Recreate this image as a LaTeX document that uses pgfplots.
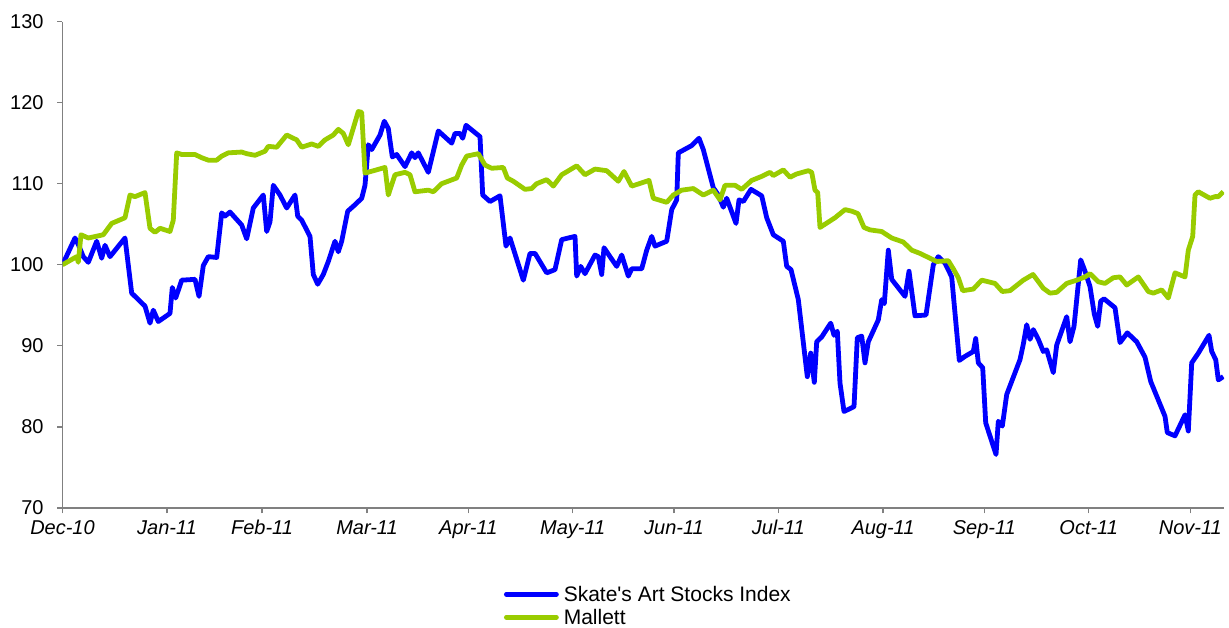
\documentclass[border=0pt]{standalone}
\usepackage{pgfplots}
\pgfplotsset{compat=1.18}
\usepackage{fontspec}
\setmainfont{Liberation Sans}
\definecolor{skblue}{RGB}{0,0,255}
\definecolor{mgreen}{RGB}{153,204,0}
\definecolor{axgray}{RGB}{128,128,128}
\begin{document}
\begin{tikzpicture}
\useasboundingbox (-31.25pt,-59.5pt) rectangle (583.25pt,254pt);
\begin{axis}[
  scale only axis, width=580.75pt, height=243.25pt,
  xmin=62.5, xmax=1224, ymin=70, ymax=130,
  axis x line*=bottom, axis y line*=left,
  axis line style={axgray, line width=0.6pt},
  tick align=outside, major tick length=2.65pt,
  tick style={axgray, line width=0.6pt},
  ytick={70,80,...,130},
  xtick={62.5,167,262,367,468.3,572.7,674,778.3,883,984.3,1088.7,1190.3},
  xticklabels={Dec-10,Jan-11,Feb-11,Mar-11,Apr-11,May-11,Jun-11,Jul-11,Aug-11,Sep-11,Oct-11,Nov-11},
  /pgf/number format/assume math mode=true,
  yticklabel style={font=\fontsize{10}{12}\selectfont, xshift=-3.3pt},
  xticklabel style={font=\fontsize{10}{12}\selectfont\itshape},
  legend style={at={(0.3801,-0.1618)}, anchor=north west, draw=none, fill=none,
    inner sep=0pt, outer sep=0pt, row sep=2pt, column sep=2.5pt,
    font=\fontsize{10.5}{12.6}\selectfont,
    nodes={inner sep=0pt, text height=7.5pt, text depth=2pt, anchor=base west}},
  legend cell align=left,
  legend image code/.code={\draw[#1, line cap=round] (1pt,3.75pt) -- (26pt,3.75pt);},
]
\addplot[skblue, line width=2.4pt, line join=round] coordinates {
(62.5,100.0)(75,103.3)(78.3,102.5)(83.3,101.0)(88.3,100.3)(96.7,102.9)(101.7,100.8)(105,102.4)(110,101.0)(125,103.3)
(131.7,96.5)(145,94.9)(150,92.8)(153.3,94.4)(158.3,93.0)(170,94.0)(172.3,97.2)(175.7,95.9)(181.7,98.1)(195,98.2)
(199,96.1)(203.3,99.9)(208.3,101.0)(216.7,100.9)(221.7,106.4)(225,106.0)(230,106.5)(241.7,104.9)(246.7,103.2)(253.3,107.0)
(263.3,108.6)(266.7,104.1)(270,105.3)(273.3,109.8)(280,108.6)(286.7,107.0)(295,108.6)(297.7,106.0)(301.7,105.5)(310,103.5)
(313.3,98.8)(317.7,97.6)(323.3,98.8)(328.3,100.4)(335,102.9)(338.3,101.6)(341.7,102.9)(347.7,106.6)(355,107.4)(361.7,108.2)
(365,109.8)(368.3,114.8)(371.7,114.2)(380,116.0)(384.3,117.7)(388.3,116.8)(392.3,113.3)(396.7,113.6)(405,112.1)(411.7,113.8)
(415,113.2)(418.3,113.8)(428.3,111.4)(438.3,116.5)(451.7,115.0)(455,116.2)(460,116.2)(462.7,115.6)(466,117.2)(480,115.8)
(482.7,108.6)(490,107.8)(500,108.5)(506,102.3)(510,103.3)(523.3,98.1)(530,101.4)(535,101.4)(546.7,99.0)(555,99.4)
(561.7,103.1)(575,103.5)(576.7,98.6)(580.7,99.8)(585,98.9)(595,101.2)(598.3,101.0)(601.7,98.8)(604,102.1)(610,101.0)
(616.7,99.8)(621.7,101.2)(628.3,98.6)(631.7,99.5)(641.7,99.5)(646.7,101.8)(651.7,103.5)(655,102.3)(666.7,102.9)(671.7,106.8)
(676.7,108.0)(678.3,113.8)(691.7,114.7)(699,115.6)(703.3,114.2)(713.3,109.5)(718.3,108.6)(723.3,107.1)(726.7,108.2)(736,105.1)
(739,108.0)(743.3,107.8)(751,109.3)(761.7,108.5)(766.7,105.8)(773.3,103.7)(783.3,102.9)(786.7,99.8)(791,99.4)(798.3,95.7)
(807.3,86.2)(810.7,89.1)(814.3,85.5)(816.7,90.5)(821.7,91.1)(830.7,92.8)(834,91.3)(837.3,91.8)(840,85.4)(844,81.9)
(854,82.5)(857.3,91.0)(861.7,91.2)(865,87.9)(868.3,90.5)(878.3,93.2)(881.7,95.7)(884.3,95.2)(888.3,101.8)(891.7,98.2)
(905,96.1)(909,99.2)(915,93.7)(926,93.8)(933.3,100.0)(938.3,101.0)(945,100.2)(951.7,98.5)(959.3,88.2)(965,88.7)
(973.3,89.3)(975.7,90.9)(978.3,87.9)(982.7,87.3)(985.7,80.5)(996,76.6)(998.3,80.7)(1002.3,80.1)(1006.7,84.0)(1020,88.3)
(1023.3,90.2)(1026.7,92.6)(1030,90.8)(1033.3,92.0)(1038.3,90.8)(1043.3,89.3)(1046.7,89.5)(1053.3,86.7)(1056.7,90.1)(1066.7,93.6)
(1070,90.5)(1074,92.4)(1080.7,100.6)(1085,99.2)(1090,97.3)(1094.3,93.9)(1097.7,92.4)(1100.7,95.5)(1104,95.8)(1115,94.7)
(1120,90.4)(1127.3,91.6)(1136.7,90.5)(1145,88.6)(1150.7,85.6)(1165,81.3)(1167.3,79.3)(1175,78.9)(1185,81.5)(1188.3,79.5)
(1191.7,87.9)(1198.3,89.1)(1209,91.3)(1211.7,89.3)(1215.7,88.3)(1218.3,85.8)(1223.3,86.2)
};
\addlegendentry{Skate\textquotesingle s Art Stocks Index}
\addplot[mgreen, line width=2.4pt, line join=round] coordinates {
(62.5,100.0)(76.7,101.0)(78.3,100.3)(81,103.7)(88.3,103.3)(103.3,103.7)(111.7,105.1)(125,105.8)(130,108.6)(135,108.4)
(145,108.9)(150,104.5)(155,104.0)(160,104.5)(170,104.1)(173.3,105.5)(176.7,113.8)(181.7,113.6)(195,113.6)(201.7,113.2)
(208.3,112.9)(216.7,112.9)(221.7,113.4)(228.3,113.8)(241.7,113.9)(246.7,113.7)(255,113.5)(265,114.0)(268.3,114.6)(276.7,114.5)
(286.7,116.0)(296.7,115.4)(301.7,114.5)(311.7,114.9)(318.3,114.6)(325,115.4)(333.3,116.0)(338.3,116.7)(343.3,116.2)(348.3,114.8)
(358.3,118.9)(361.7,118.8)(365,111.3)(385,112.0)(388.3,108.6)(395,111.1)(405,111.4)(410,111.1)(415,109.0)(428.3,109.2)
(433.3,109.0)(441.7,110.0)(456.7,110.7)(461.7,112.3)(466.7,113.4)(478.3,113.7)(485,112.3)(491.7,111.9)(503.3,112.0)(507.3,110.7)
(513.3,110.3)(525,109.3)(531.7,109.4)(536.7,110.0)(546.7,110.5)(553.3,109.7)(561.7,111.1)(576.7,112.2)(585,111.1)(595,111.8)
(606.7,111.6)(618.3,110.3)(624,111.5)(631.7,109.7)(641.7,110.1)(649,110.4)(653.3,108.2)(666.7,107.7)(673.3,108.6)(681.7,109.2)
(693.3,109.4)(703.3,108.6)(713.3,109.2)(720,108.0)(725,109.8)(735,109.8)(741.7,109.3)(751.7,110.4)(761.7,110.9)(770,111.4)
(773.3,111.0)(783.3,111.7)(790,110.8)(796.7,111.2)(808.3,111.6)(811.7,111.4)(815,109.2)(817.7,108.9)(820,104.6)(835,105.8)
(845,106.8)(852,106.6)(858,106.3)(864,104.6)(870,104.3)(881.7,104.1)(891.7,103.3)(903.3,102.8)(911.7,101.8)(920,101.4)
(930,100.8)(936.7,100.4)(948.3,100.5)(953.3,99.5)(958.3,98.4)(962.7,96.8)(973.3,97.0)(981.7,98.1)(995,97.7)(1002.3,96.7)
(1010,96.8)(1023.3,98.1)(1033,98.8)(1043.3,97.1)(1050,96.5)(1056.7,96.6)(1066.7,97.7)(1076.7,98.1)(1085,98.5)(1090,98.9)
(1098.3,97.9)(1105,97.7)(1113.3,98.4)(1120,98.5)(1126.7,97.5)(1138.3,98.5)(1148.3,96.7)(1153.3,96.5)(1161.7,96.9)(1168.3,95.9)
(1175,99.0)(1185,98.5)(1188.3,101.8)(1192.7,103.5)(1195,108.6)(1198.3,109.0)(1210,108.2)(1215,108.4)(1218.3,108.4)(1223.3,109.0)
};
\addlegendentry{Mallett}
\end{axis}
\end{tikzpicture}
\end{document}
